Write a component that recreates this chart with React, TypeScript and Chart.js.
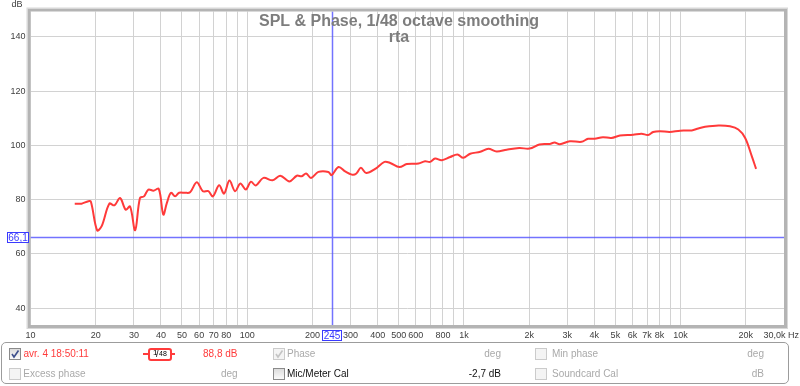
import React, { useEffect, useRef } from "react";
import { Chart, registerables } from "chart.js";
Chart.register(...registerables);

// ---- data ----
const freqHz = [
  16.0, 17.2, 18.5, 19.0, 20.3, 21.3, 23.1, 24.4, 25.9, 27.5, 28.8, 30.4, 32.0, 33.4, 35.0, 36.9, 39.1,
  41.0, 42.6, 44.5, 46.5, 48.5, 51.7, 54.5, 58.5, 62.4, 66.2, 69.4, 74.2, 78.2, 82.8, 87.9, 93.0, 98.5,
  104, 109.5, 118.8, 131, 142, 156.6, 169.4, 178.6, 187, 197, 213, 237, 245, 264, 283, 304, 318, 334.6,
  354, 389.5, 430, 457, 504, 545, 617, 662, 698, 736, 790, 864, 934, 993, 1069, 1190, 1297, 1416, 1575,
  1800, 2010, 2230, 2490, 2620, 2770, 3080, 3490, 3740, 4010, 4380, 4790, 5250, 6040, 6600, 7080, 7470,
  8020, 8900, 9960, 11250, 12070, 12970, 14950, 16900, 18470, 19860, 21300, 22300,
];
const splDb = [
  78.5, 78.5, 79.4, 79.2, 68.7, 70.2, 78.5, 77.9, 80.6, 76.3, 77.5, 68.7, 80.6, 81.2, 83.7, 83.3, 83.9,
  74.5, 78.8, 82.5, 81.2, 82.5, 82.5, 82.7, 86.4, 83.1, 83.1, 81.2, 85.3, 82.2, 87.0, 83.1, 85.9, 83.7,
  86.6, 85.2, 88.0, 87.1, 88.8, 86.7, 88.8, 88.6, 89.6, 88.0, 90.2, 90.2, 89.0, 92.0, 90.4, 89.2, 89.5, 91.7,
  89.8, 91.3, 93.9, 93.5, 92.0, 93.1, 93.3, 94.1, 93.9, 95.1, 94.5, 95.7, 96.6, 95.4, 96.9, 97.6, 98.7, 97.7, 98.4,
  99.0, 98.8, 100.3, 100.5, 101.0, 100.4, 101.5, 101.3, 102.4, 102.4, 103.0, 102.7, 103.6, 103.9, 104.3, 103.8, 104.9,
  105.2, 104.9, 105.4, 105.5, 106.2, 106.8, 107.3, 107.0, 105.8, 102.7, 96.0, 91.3,
];
const gridFreqs = [
  10, 20, 30, 40, 50, 60, 70, 80, 90, 100, 200, 300, 400, 500, 600, 700, 800, 900,
  1000, 2000, 3000, 4000, 5000, 6000, 7000, 8000, 9000, 10000, 20000, 30000,
];
const xTickLabels: Record<number, string> = {
  10: "10", 20: "20", 30: "30", 40: "40", 50: "50", 60: "60", 70: "70", 80: "80", 100: "100",
  200: "200", 300: "300", 400: "400", 500: "500", 600: "600", 800: "800", 1000: "1k",
  2000: "2k", 3000: "3k", 4000: "4k", 5000: "5k", 6000: "6k", 7000: "7k", 8000: "8k",
  10000: "10k", 20000: "20k",
};
const lastXLabel = "30,0k Hz";
const yTicks = [40, 60, 80, 100, 120, 140];
const yUnit = "dB";
const cursorFreq = 245;
const cursorDb = 66.1;
const cursorFreqLabel = "245";
const cursorDbLabel = "66,1";
const titleLine1 = "SPL & Phase, 1/48 octave smoothing";
const titleLine2 = "rta";

const FONT = "'Liberation Sans', Arial, sans-serif";

const overlayPlugin = {
  id: "rewOverlay",
  beforeDatasetsDraw(chart: any) {
    const { ctx, chartArea: a, scales } = chart;
    const cx = Math.round(scales.x.getPixelForValue(cursorFreq)) + 0.5;
    const cy = Math.round(scales.y.getPixelForValue(cursorDb)) + 0.5;
    ctx.save();
    ctx.strokeStyle = "rgba(80,80,255,0.8)";
    ctx.lineWidth = 1.5;
    ctx.beginPath();
    ctx.moveTo(cx, a.top);
    ctx.lineTo(cx, a.bottom);
    ctx.moveTo(a.left, cy);
    ctx.lineTo(a.right, cy);
    ctx.stroke();
    ctx.restore();
  },
  afterDraw(chart: any) {
    const { ctx, chartArea: a, scales } = chart;
    ctx.save();
    // plot frame
    ctx.strokeStyle = "#b4b4b4";
    ctx.lineWidth = 3;
    ctx.strokeRect(a.left - 1.5, a.top - 1.5, a.right - a.left + 3, a.bottom - a.top + 3);
    ctx.strokeStyle = "#d8d8d8";
    ctx.lineWidth = 1;
    ctx.strokeRect(a.left - 3.5, a.top - 3.5, a.right - a.left + 7, a.bottom - a.top + 7);
    // title
    ctx.fillStyle = "#7d7d7d";
    ctx.font = `bold 16px ${FONT}`;
    ctx.textAlign = "center";
    ctx.textBaseline = "alphabetic";
    ctx.fillText(titleLine1, 399, 26);
    ctx.fillText(titleLine2, 399, 42);
    // unit labels
    ctx.fillStyle = "#404040";
    ctx.font = `9px ${FONT}`;
    ctx.textAlign = "center";
    ctx.textBaseline = "middle";
    ctx.fillText(yUnit, 17, 5);
    ctx.textAlign = "right";
    ctx.fillText(lastXLabel, 799, 336);
    // cursor label boxes
    const cx = scales.x.getPixelForValue(cursorFreq);
    const cy = scales.y.getPixelForValue(cursorDb);
    ctx.font = `10px ${FONT}`;
    ctx.textAlign = "center";
    ctx.textBaseline = "middle";
    // x cursor box
    ctx.fillStyle = "#ffffff";
    ctx.fillRect(cx - 9.5, 330.5, 19, 10);
    ctx.strokeStyle = "#3a3aff";
    ctx.lineWidth = 1;
    ctx.strokeRect(Math.round(cx) - 9.5, 330.5, 19, 10);
    ctx.fillStyle = "#3a3aff";
    ctx.fillText(cursorFreqLabel, cx + 0.5, 336);
    // y cursor box
    ctx.fillStyle = "#ffffff";
    ctx.fillRect(7.5, Math.round(cy) - 4.5, 21, 10);
    ctx.strokeRect(7.5, Math.round(cy) - 4.5, 21, 10);
    ctx.fillStyle = "#3a3aff";
    ctx.fillText(cursorDbLabel, 18, cy + 0.5);
    ctx.restore();
  },
};

function CheckBox({ x, y, checked, disabled }: { x: number; y: number; checked?: boolean; disabled?: boolean }) {
  return (
    <div
      style={{
        position: "absolute",
        left: x,
        top: y,
        width: 10,
        height: 10,
        border: `1px solid ${disabled ? "#cbcbcb" : "#8a8a8a"}`,
        background: disabled ? "#f4f4f4" : "linear-gradient(#dcdcdc, #fafafa)",
      }}
    >
      {checked && (
        <svg width="10" height="10" style={{ position: "absolute", left: 0, top: 0 }}>
          <path
            d="M2 5 L4 8 L8.5 1.5"
            fill="none"
            stroke={disabled ? "#c4c4c4" : "#3d4f8c"}
            strokeWidth="1.6"
          />
        </svg>
      )}
    </div>
  );
}

function Txt({
  x,
  cy,
  text,
  color,
  align,
}: {
  x: number;
  cy: number;
  text: string;
  color: string;
  align?: "left" | "right";
}) {
  const style: any = {
    position: "absolute",
    top: cy - 6,
    height: 12,
    lineHeight: "12px",
    fontSize: 10,
    fontFamily: FONT,
    color,
    whiteSpace: "nowrap",
  };
  if (align === "right") style.right = 800 - x;
  else style.left = x;
  return <div style={style}>{text}</div>;
}

export default function App() {
  const canvasRef = useRef<HTMLCanvasElement | null>(null);

  useEffect(() => {
    const canvas = canvasRef.current;
    if (!canvas) return;
    const points = freqHz.map((f, i) => ({ x: f, y: splDb[i] }));
    const chart = new Chart(canvas, {
      type: "line",
      data: {
        datasets: [
          {
            data: points,
            borderColor: "#ff3a3a",
            borderWidth: 2,
            pointRadius: 0,
            tension: 0.35,
            fill: false,
          },
        ],
      },
      options: {
        animation: false,
        responsive: false,
        maintainAspectRatio: false,
        devicePixelRatio: 1,
        layout: { padding: { top: 11.5, right: 16, left: 0, bottom: 0 } },
        plugins: { legend: { display: false }, tooltip: { enabled: false }, title: { display: false } },
        scales: {
          x: {
            type: "logarithmic",
            min: 10,
            max: 30000,
            border: { display: false },
            grid: { color: "#d2d2d2", lineWidth: 1, drawTicks: false },
            afterBuildTicks: (scale: any) => {
              scale.ticks = gridFreqs.map((v) => ({ value: v }));
            },
            afterFit: (scale: any) => {
              scale.height = 20;
            },
            ticks: {
              autoSkip: false,
              maxRotation: 0,
              minRotation: 0,
              padding: 5,
              color: "#404040",
              font: { family: FONT, size: 9 },
              callback: (v: any) => xTickLabels[Number(v)] ?? "",
            },
          },
          y: {
            min: 33.8,
            max: 149.3,
            border: { display: false },
            grid: { color: "#d2d2d2", lineWidth: 1, drawTicks: false },
            afterBuildTicks: (scale: any) => {
              scale.ticks = yTicks.map((v) => ({ value: v }));
            },
            afterFit: (scale: any) => {
              scale.width = 30.5;
            },
            ticks: {
              padding: 5,
              color: "#404040",
              font: { family: FONT, size: 9 },
              callback: (v: any) => String(v),
            },
          },
        },
      },
      plugins: [overlayPlugin],
    });
    return () => chart.destroy();
  }, []);

  const red = "#ff3b3b";
  const gray = "#a9a9a9";
  const black = "#111111";
  const r1 = 353.7;
  const r2 = 373.7;

  return (
    <div
      style={{
        position: "fixed",
        left: 0,
        top: 0,
        width: 800,
        height: 386,
        background: "#ffffff",
        overflow: "hidden",
      }}
    >
      <canvas ref={canvasRef} width={800} height={345} style={{ position: "absolute", left: 0, top: 0 }} />
      <div
        style={{
          position: "absolute",
          left: 1,
          top: 342,
          width: 786,
          height: 40,
          border: "1px solid #9c9c9c",
          borderRadius: 5,
        }}
      />
      {/* row 1 */}
      <CheckBox x={9} y={348} checked />
      <Txt x={23.5} cy={r1} text="avr. 4 18:50:11" color={red} />
      <div style={{ position: "absolute", left: 143, top: 353, width: 32, height: 2, background: red }} />
      <div
        style={{
          position: "absolute",
          left: 148,
          top: 347.5,
          width: 20,
          height: 9,
          border: `2px solid ${red}`,
          borderRadius: 3,
          background: "#ffffff",
          fontFamily: FONT,
          color: "#000",
        }}
      >
        <span style={{ position: "absolute", left: 3, top: -2, fontSize: 8 }}>1</span>
        <span style={{ position: "absolute", left: 6, top: -1, fontSize: 9 }}>/</span>
        <span style={{ position: "absolute", left: 9, top: 0, fontSize: 7 }}>48</span>
      </div>
      <Txt x={203} cy={r1} text="88,8 dB" color={red} />
      <CheckBox x={273} y={348} checked disabled />
      <Txt x={287} cy={r1} text="Phase" color={gray} />
      <Txt x={501} cy={r1} text="deg" color={gray} align="right" />
      <CheckBox x={535} y={348} disabled />
      <Txt x={552} cy={r1} text="Min phase" color={gray} />
      <Txt x={764} cy={r1} text="deg" color={gray} align="right" />
      {/* row 2 */}
      <CheckBox x={9} y={368} disabled />
      <Txt x={23.3} cy={r2} text="Excess phase" color={gray} />
      <Txt x={221} cy={r2} text="deg" color={gray} />
      <CheckBox x={273} y={368} />
      <Txt x={287} cy={r2} text="Mic/Meter Cal" color={black} />
      <Txt x={501} cy={r2} text="-2,7 dB" color={black} align="right" />
      <CheckBox x={535} y={368} disabled />
      <Txt x={552} cy={r2} text="Soundcard Cal" color={gray} />
      <Txt x={764} cy={r2} text="dB" color={gray} align="right" />
    </div>
  );
}
